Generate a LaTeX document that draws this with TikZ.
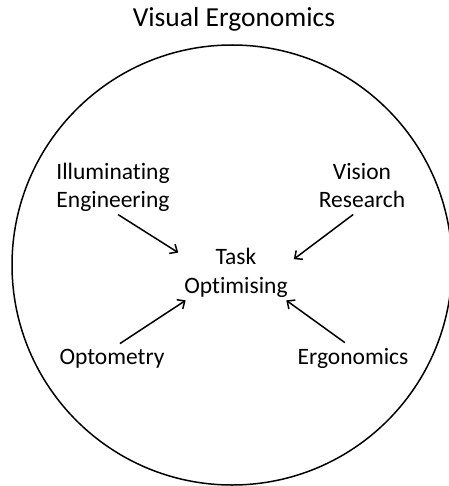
\documentclass[tikz,border=0pt]{standalone}
\usepackage{fontspec}
\setmainfont{Carlito}[Ligatures=NoCommon]
\usetikzlibrary{arrows.meta,positioning}

\begin{document}
\begin{tikzpicture}[x=1pt, y=-1pt, >={Straight Barb[length=6pt,width=11pt]},
  topic/.style={align=center, inner sep=0pt, font=\fontsize{23.5}{28}\selectfont},
  hub/.style={align=center, inner xsep=6pt, inner ysep=3pt, font=\fontsize{23.5}{29}\selectfont},
  feed/.style={->, line width=1.5pt}]
  \useasboundingbox (0,0) rectangle (448,486);

  % outer circle and title
  \draw[line width=1.5pt] (232,265) circle (220);
  \node[font=\fontsize{27.5}{33}\selectfont, inner sep=0pt] (title) at (234,19) {Visual Ergonomics};

  % nodes
  \node[hub] (task) at (236,272.5) {Task\\Optimising};
  \node[topic] (illum) at (113,187) {Illuminating\\Engineering};
  \node[topic] (vision) at (362,185.5) {Vision\\Research};
  \node[topic] (opto) at (112,358.5) {Optometry};
  \node[topic] (ergo) at (353,358.8) {Ergonomics};

  % arrows into the hub
  \draw[feed, shorten <=6pt] (illum.south) -- (task.161);
  \draw[feed, shorten <=11pt] (vision.south) -- (task.13);
  \draw[feed, shorten <=9.5pt] (opto.north) -- (task.209);
  \draw[feed, shorten <=10pt] (ergo.north) -- (task.331);
\end{tikzpicture}
\end{document}
